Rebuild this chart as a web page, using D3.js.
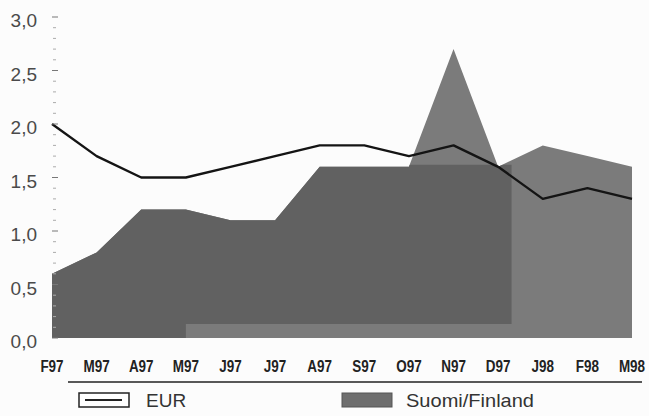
<!DOCTYPE html>
<html>
<head>
<meta charset="utf-8">
<script src="https://cdn.jsdelivr.net/npm/d3@7/dist/d3.min.js"></script>
<style>
  html, body { margin: 0; padding: 0; background: #fff; }
  svg { display: block; }
</style>
</head>
<body>
<svg id="chart" width="649" height="416"></svg>
<script>
// Monthly categories, Feb 1997 – Mar 1998
const months = ["F97","M97","A97","M97","J97","J97","A97","S97","O97","N97","D97","J98","F98","M98"];
// Euro-area rate (line)
const eurValues = [2.0, 1.7, 1.5, 1.5, 1.6, 1.7, 1.8, 1.8, 1.7, 1.8, 1.6, 1.3, 1.4, 1.3];
// Finland rate (area)
const finlandValues = [0.6, 0.8, 1.2, 1.2, 1.1, 1.1, 1.6, 1.6, 1.6, 2.7, 1.6, 1.8, 1.7, 1.6];
// Y axis ticks
const yTicks = [0, 0.5, 1.0, 1.5, 2.0, 2.5, 3.0];
const legendLabels = ["EUR", "Suomi/Finland"];

const svg = d3.select("#chart");
const W = 649, H = 416;

svg.append("rect").attr("width", W).attr("height", H).attr("fill", "#fcfcfc");

const x = d3.scalePoint().domain(d3.range(months.length)).range([52, 632]);
const y = d3.scaleLinear().domain([0, 3]).range([338, 17]);

const fmt = v => d3.format(".1f")(v).replace(".", ",");

// area + line generators
const area = d3.area()
  .x((d, i) => x(i))
  .y0(y(0))
  .y1(d => y(d));
const line = d3.line()
  .x((d, i) => x(i))
  .y(d => y(d));

// darker printed tone over the earlier months
const defs = svg.append("defs");
const clip = defs.append("clipPath").attr("id", "darkTone");
const xSplit = x(10) + (x(11) - x(10)) * 0.3;
clip.append("rect")
  .attr("x", x(0)).attr("y", y(1.62))
  .attr("width", xSplit - x(0)).attr("height", y(0.13) - y(1.62));
clip.append("rect")
  .attr("x", x(0)).attr("y", y(0.13))
  .attr("width", x(3) - x(0)).attr("height", y(0) - y(0.13) + 1);

svg.append("path")
  .datum(finlandValues)
  .attr("d", area)
  .attr("fill", "#7b7b7b");

svg.append("path")
  .datum(finlandValues)
  .attr("d", area)
  .attr("fill", "#616161")
  .attr("clip-path", "url(#darkTone)");

// EUR line
svg.append("path")
  .datum(eurValues)
  .attr("d", line)
  .attr("fill", "none")
  .attr("stroke", "#141414")
  .attr("stroke-width", 2.4)
  .attr("stroke-linejoin", "round");

// Y axis: dotted minor ticks, no spine
const minor = d3.range(0, 30.01, 1).map(v => v / 10);
svg.append("g").selectAll("line")
  .data(minor)
  .join("line")
  .attr("x1", d => (Math.round(d * 10) % 5 === 0) ? 52 : 53)
  .attr("x2", d => (Math.round(d * 10) % 5 === 0) ? 58 : 56)
  .attr("y1", d => y(d)).attr("y2", d => y(d))
  .attr("stroke", d => (Math.round(d * 10) % 5 === 0) ? "#777" : "#aaa")
  .attr("stroke-width", 1);

svg.append("g").selectAll("text")
  .data(yTicks)
  .join("text")
  .attr("x", 37)
  .attr("y", d => y(d) + 10)
  .attr("text-anchor", "end")
  .attr("font-family", "'Liberation Sans', Arial, sans-serif")
  .attr("font-size", 19)
  .attr("fill", "#4a4a4a")
  .text(fmt);

// X axis labels, condensed bold
svg.append("g").selectAll("text")
  .data(months)
  .join("text")
  .attr("x", (d, i) => x(i))
  .attr("y", 372)
  .attr("text-anchor", "middle")
  .attr("font-family", "'Liberation Sans', Arial, sans-serif")
  .attr("font-weight", "bold")
  .attr("font-size", 16)
  .attr("fill", "#222")
  .text(d => d)
  .each(function () {
    const w = this.getComputedTextLength();
    d3.select(this).attr("textLength", w * 0.84).attr("lengthAdjust", "spacingAndGlyphs");
  });

// rule under the axis labels
svg.append("line")
  .attr("x1", 68).attr("x2", 642)
  .attr("y1", 382).attr("y2", 382)
  .attr("stroke", "#222").attr("stroke-width", 1.5);

// legend
const lg = svg.append("g").attr("font-family", "'Liberation Sans', Arial, sans-serif")
  .attr("font-size", 19).attr("fill", "#333");
lg.append("rect").attr("x", 79).attr("y", 393).attr("width", 50).attr("height", 14)
  .attr("fill", "#fff").attr("stroke", "#222").attr("stroke-width", 1.5);
lg.append("line").attr("x1", 85).attr("x2", 122).attr("y1", 400).attr("y2", 400)
  .attr("stroke", "#222").attr("stroke-width", 2);
lg.append("text").attr("x", 146).attr("y", 407).text(legendLabels[0]);
lg.append("rect").attr("x", 342).attr("y", 393).attr("width", 50).attr("height", 14)
  .attr("fill", "#6e6e6e").attr("stroke", "#555").attr("stroke-width", 1);
lg.append("text").attr("x", 406).attr("y", 407).attr("textLength", 128)
  .attr("lengthAdjust", "spacingAndGlyphs").text(legendLabels[1]);
</script>
</body>
</html>
